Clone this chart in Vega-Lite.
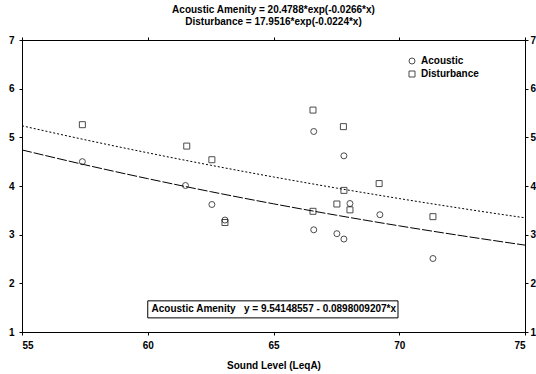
{
  "$schema": "https://vega.github.io/schema/vega-lite/v6.json",
  "autosize": "none",
  "width": 503,
  "height": 292,
  "padding": {"left": 22, "top": 40, "right": 11, "bottom": 42},
  "background": "white",
  "title": {
    "text": ["Acoustic Amenity = 20.4788*exp(-0.0266*x)", "Disturbance = 17.9516*exp(-0.0224*x)"],
    "font": "Liberation Sans",
    "fontSize": 10,
    "fontWeight": "bold",
    "lineHeight": 12,
    "offset": 8,
    "anchor": "middle",
    "color": "black"
  },
  "config": {
    "view": {"stroke": "black", "strokeWidth": 1},
    "axis": {
      "grid": false,
      "domainColor": "black",
      "tickColor": "black",
      "labelColor": "black",
      "titleColor": "black",
      "labelFont": "Liberation Sans",
      "titleFont": "Liberation Sans",
      "labelFontSize": 10,
      "labelFontWeight": "bold",
      "titleFontSize": 10,
      "titleFontWeight": "bold",
      "tickSize": 3
    },
    "legend": {
      "labelFont": "Liberation Sans",
      "labelFontSize": 10,
      "labelFontWeight": "bold",
      "labelColor": "black"
    }
  },
  "datasets": {
    "pts": [
      {"series": "Acoustic", "x": 57.4, "y": 4.50},
      {"series": "Acoustic", "x": 61.5, "y": 4.01},
      {"series": "Acoustic", "x": 62.55, "y": 3.62},
      {"series": "Acoustic", "x": 63.07, "y": 3.30},
      {"series": "Acoustic", "x": 66.6, "y": 5.12},
      {"series": "Acoustic", "x": 66.6, "y": 3.10},
      {"series": "Acoustic", "x": 67.52, "y": 3.02},
      {"series": "Acoustic", "x": 67.8, "y": 2.91},
      {"series": "Acoustic", "x": 67.8, "y": 4.62},
      {"series": "Acoustic", "x": 68.04, "y": 3.64},
      {"series": "Acoustic", "x": 69.23, "y": 3.41},
      {"series": "Acoustic", "x": 71.34, "y": 2.51},
      {"series": "Disturbance", "x": 57.4, "y": 5.26},
      {"series": "Disturbance", "x": 61.55, "y": 4.82},
      {"series": "Disturbance", "x": 62.55, "y": 4.54},
      {"series": "Disturbance", "x": 63.07, "y": 3.25},
      {"series": "Disturbance", "x": 66.57, "y": 5.56},
      {"series": "Disturbance", "x": 66.57, "y": 3.48},
      {"series": "Disturbance", "x": 67.52, "y": 3.63},
      {"series": "Disturbance", "x": 67.78, "y": 5.22},
      {"series": "Disturbance", "x": 67.8, "y": 3.91},
      {"series": "Disturbance", "x": 68.04, "y": 3.51},
      {"series": "Disturbance", "x": 69.2, "y": 4.05},
      {"series": "Disturbance", "x": 71.34, "y": 3.37}
    ],
    "fitA": [
      {"x": 55, "y": 4.741},
      {"x": 57.5, "y": 4.436},
      {"x": 60, "y": 4.151},
      {"x": 62.5, "y": 3.884},
      {"x": 65, "y": 3.634},
      {"x": 67.5, "y": 3.400},
      {"x": 70, "y": 3.181},
      {"x": 72.5, "y": 2.977},
      {"x": 75, "y": 2.785}
    ],
    "fitD": [
      {"x": 55, "y": 5.237},
      {"x": 57.5, "y": 4.951},
      {"x": 60, "y": 4.682},
      {"x": 62.5, "y": 4.427},
      {"x": 65, "y": 4.186},
      {"x": 67.5, "y": 3.958},
      {"x": 70, "y": 3.742},
      {"x": 72.5, "y": 3.538},
      {"x": 75, "y": 3.346}
    ],
    "box": [
      {"x1": 60.0, "x2": 69.95, "y1": 1.29, "y2": 1.64, "tx": 60.15, "ty": 1.465, "label": "Acoustic Amenity\u00a0\u00a0 y = 9.54148557 - 0.0898009207*x"}
    ]
  },
  "resolve": {"axis": {"x": "independent", "y": "independent"}},
  "layer": [
    {
      "data": {"name": "pts"},
      "mark": {"type": "point", "filled": false, "color": "black", "strokeWidth": 1, "size": 36},
      "encoding": {
        "x": {"field": "x", "type": "quantitative", "scale": {"domain": [55, 75], "nice": false, "zero": false},
              "axis": {"orient": "bottom", "values": [55, 60, 65, 70, 75], "title": "Sound Level (LeqA)", "labelPadding": 5, "titlePadding": 10}},
        "y": {"field": "y", "type": "quantitative", "scale": {"domain": [1, 7], "nice": false, "zero": false},
              "axis": {"orient": "left", "values": [1, 2, 3, 4, 5, 6, 7], "title": null, "labelPadding": 5}},
        "shape": {"field": "series", "type": "nominal", "scale": {"domain": ["Acoustic", "Disturbance"], "range": ["circle", "square"]},
                  "legend": {"title": null, "orient": "none", "legendX": 385, "legendY": 16, "symbolStrokeColor": "black", "symbolFillColor": "transparent", "symbolSize": 36, "symbolStrokeWidth": 1, "rowPadding": 3}}
      }
    },
    {
      "data": {"name": "fitA"},
      "mark": {"type": "line", "color": "black", "strokeWidth": 1, "interpolate": "monotone", "strokeDash": [10, 2]},
      "encoding": {
        "x": {"field": "x", "type": "quantitative", "scale": {"domain": [55, 75], "nice": false, "zero": false},
              "axis": {"orient": "top", "values": [55, 60, 65, 70, 75], "labels": false, "title": null, "tickSize": 3}},
        "y": {"field": "y", "type": "quantitative", "scale": {"domain": [1, 7], "nice": false, "zero": false},
              "axis": {"orient": "right", "values": [1, 2, 3, 4, 5, 6, 7], "title": null, "labelPadding": 2}}
      }
    },
    {
      "data": {"name": "fitD"},
      "mark": {"type": "line", "color": "black", "strokeWidth": 1, "interpolate": "monotone", "strokeDash": [2, 2]},
      "encoding": {
        "x": {"field": "x", "type": "quantitative", "axis": null},
        "y": {"field": "y", "type": "quantitative", "axis": null}
      }
    },
    {
      "data": {"name": "box"},
      "mark": {"type": "rect", "fill": "white", "stroke": "black", "strokeWidth": 1},
      "encoding": {
        "x": {"field": "x1", "type": "quantitative", "axis": null},
        "x2": {"field": "x2"},
        "y": {"field": "y1", "type": "quantitative", "axis": null},
        "y2": {"field": "y2"}
      }
    },
    {
      "data": {"name": "box"},
      "mark": {"type": "text", "align": "left", "baseline": "middle", "font": "Liberation Sans", "fontSize": 10, "fontWeight": "bold", "color": "black"},
      "encoding": {
        "x": {"field": "tx", "type": "quantitative", "axis": null},
        "y": {"field": "ty", "type": "quantitative", "axis": null},
        "text": {"field": "label"}
      }
    }
  ]
}
